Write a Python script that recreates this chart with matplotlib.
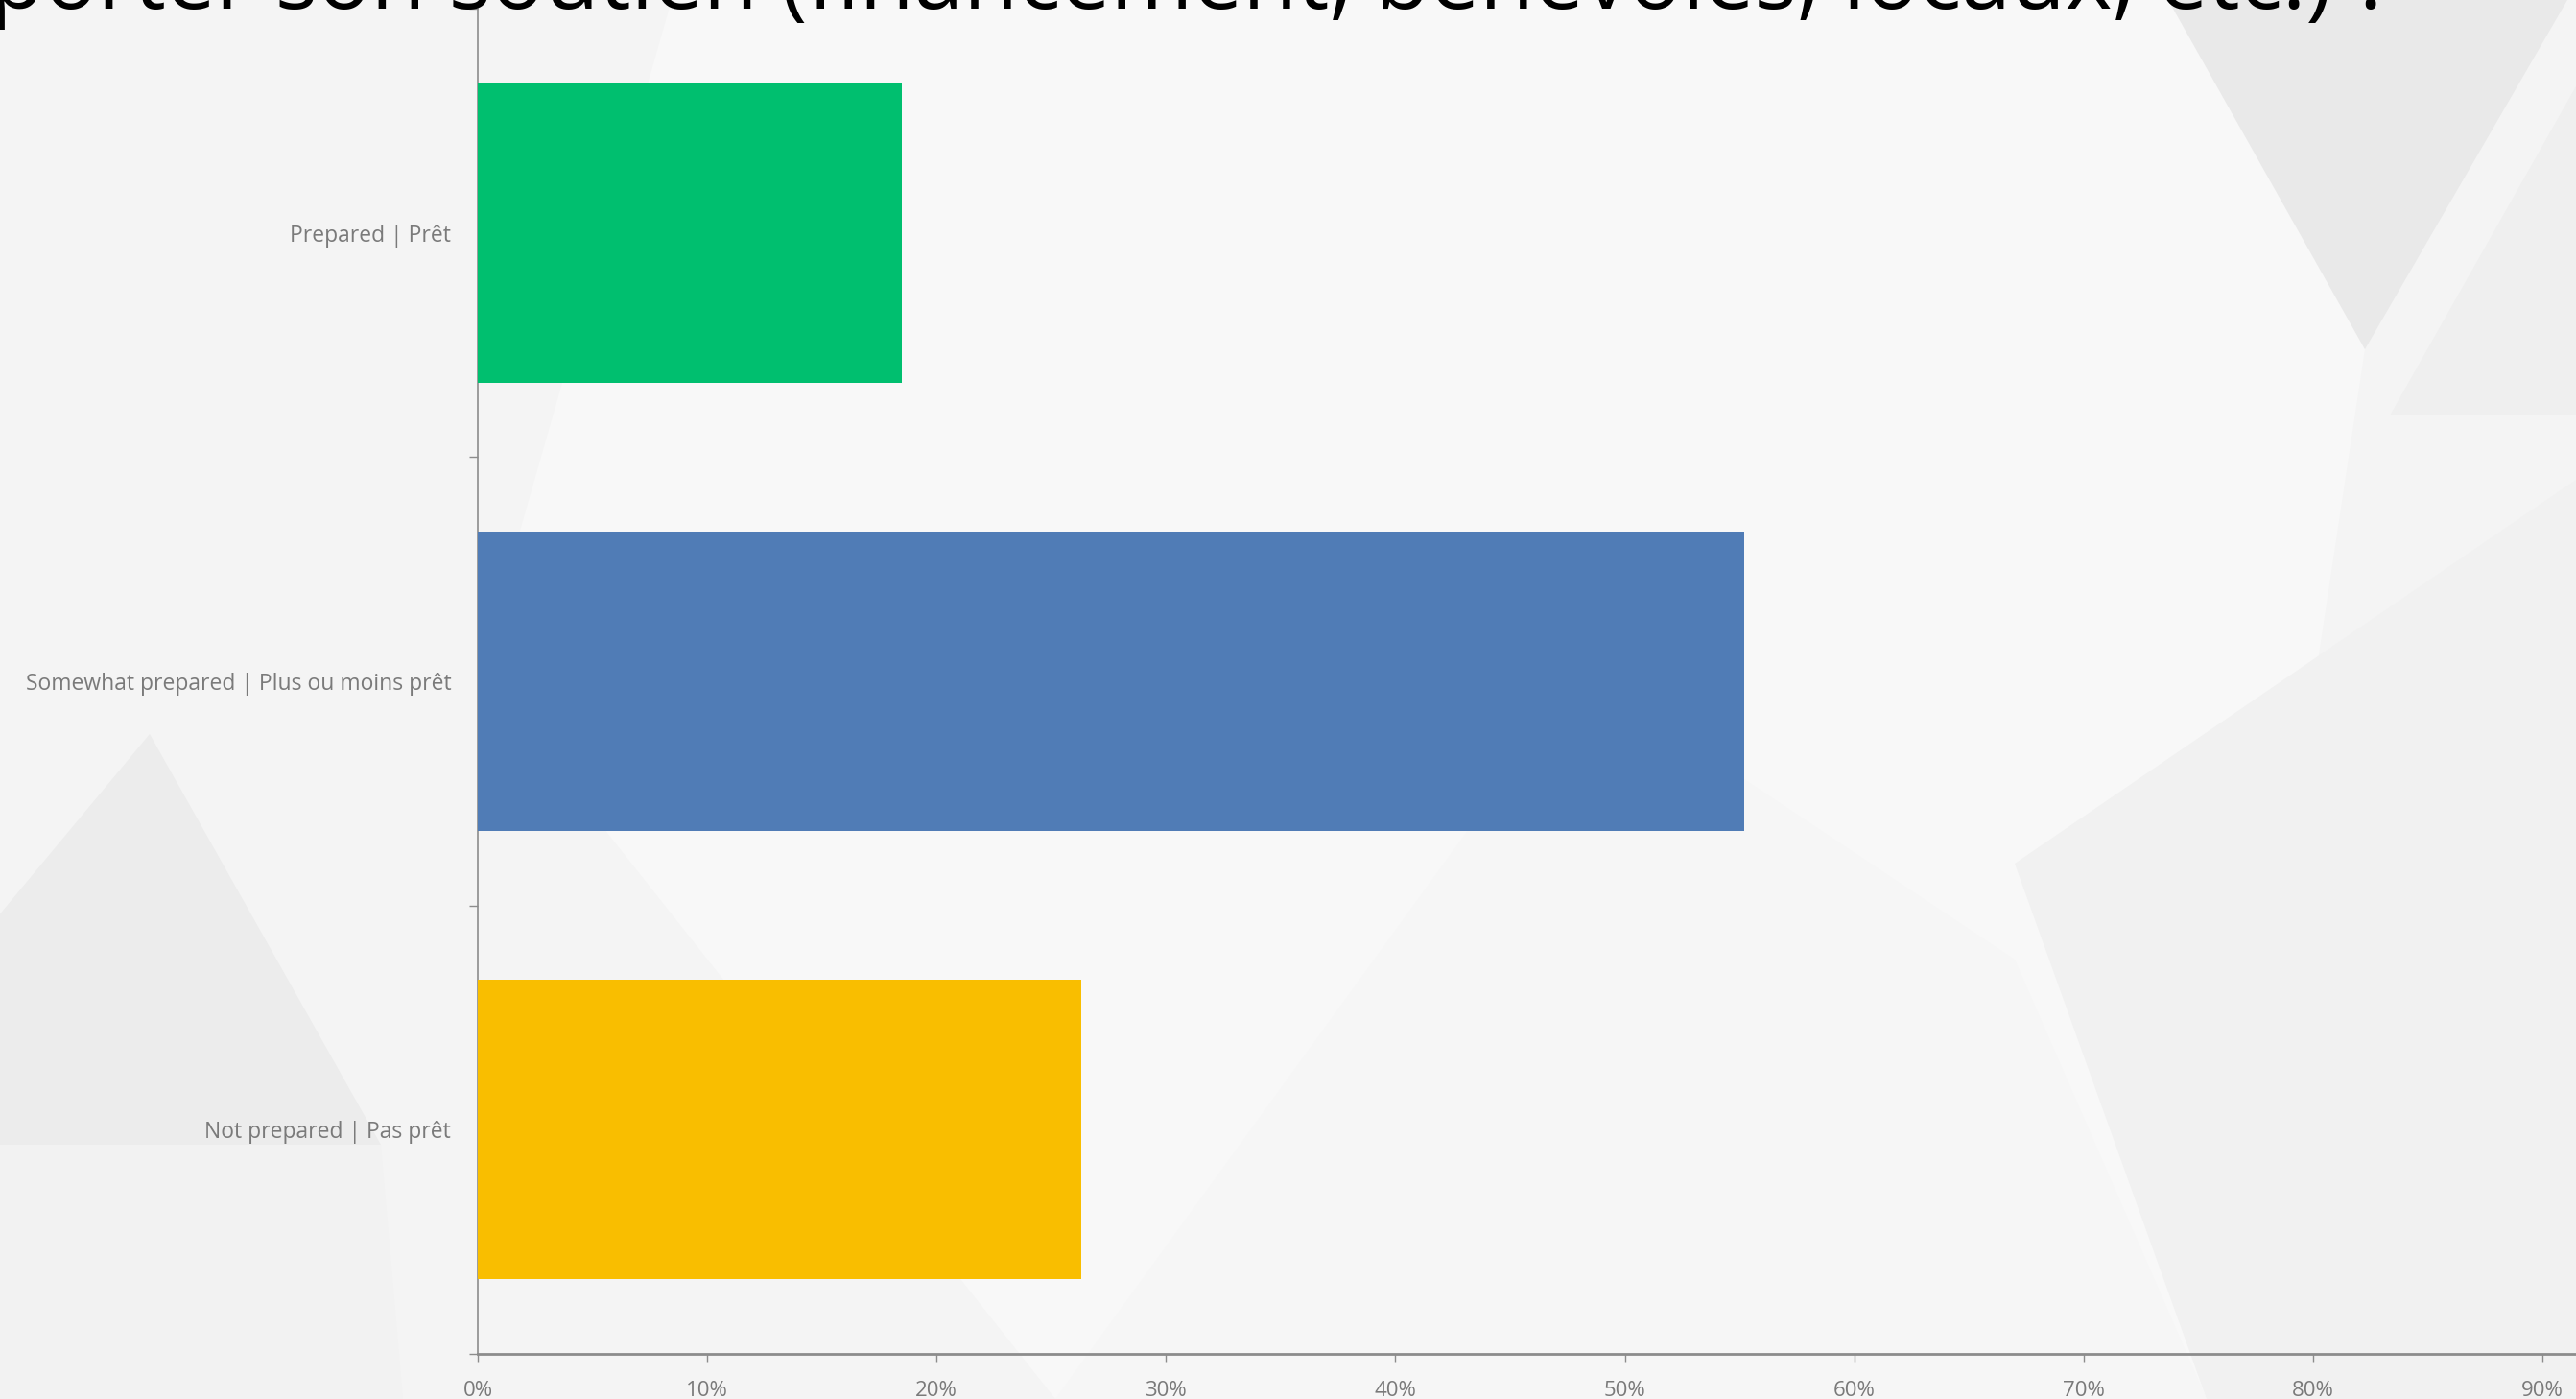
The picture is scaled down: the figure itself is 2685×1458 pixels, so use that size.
import numpy as np
import matplotlib
matplotlib.use("Agg")
import matplotlib.pyplot as plt
from matplotlib.patches import Polygon
from matplotlib.ticker import FuncFormatter, FixedLocator

# ---- data ----
categories = ["Prepared | Prêt",
              "Somewhat prepared | Plus ou moins prêt",
              "Not prepared | Pas prêt"]
values = [0.185, 0.552, 0.263]
bar_colors = ["#00BF6F", "#507CB6", "#F9BE00"]
x_ticks = [0.0, 0.1, 0.2, 0.3, 0.4, 0.5, 0.6, 0.7, 0.8, 0.9, 1.0]
title_text = "apporter son soutien (financement, bénévoles, locaux, etc.) ?"

W, H = 2685, 1458
DPI = 100
fig = plt.figure(figsize=(W / DPI, H / DPI), dpi=DPI)
fig.patch.set_facecolor("#f4f4f4")

# ---- decorative background ----
bg = fig.add_axes([0, 0, 1, 1], zorder=-10)
bg.set_xlim(0, 1)
bg.set_ylim(0, 1)
bg.axis("off")

def px(x, y):
    return (x / W, 1 - y / H)

shapes = [
    ([(700, 0), (2260, 0), (2465, 364), (2300, 1458), (1100, 1458), (500, 700)], "#f8f8f8"),
    ([(1100, 1458), (1650, 700), (2100, 1000), (2300, 1458)], "#f6f6f6"),
    ([(2260, 0), (2676, 0), (2465, 364)], "#e9e9e9"),
    ([(2491, 433), (2685, 433), (2685, 90)], "#efefef"),
    ([(2100, 900), (2685, 500), (2685, 1458), (2300, 1458)], "#f1f1f1"),
    ([(-200, 1193), (397, 1193), (156, 765)], "#ececec"),
    ([(0, 1193), (397, 1193), (420, 1458), (0, 1458)], "#f2f2f2"),
]
for pts, col in shapes:
    bg.add_patch(Polygon([px(*p) for p in pts], closed=True, facecolor=col,
                         edgecolor="none"))

# ---- chart ----
left, right, top, bottom = 498, 498 + 2391, 9, 1411
ax = fig.add_axes([left / W, (H - bottom) / H, (right - left) / W, (bottom - top) / H])
ax.patch.set_alpha(0)

ypos = np.arange(len(categories))
ax.barh(ypos, values, height=0.667, color=bar_colors, zorder=3)
ax.set_ylim(len(categories) - 0.5, -0.5)
ax.set_xlim(0, 1.0)

ax.spines["top"].set_visible(False)
ax.spines["right"].set_visible(False)
ax.spines["left"].set_color("#8c8c8c")
ax.spines["left"].set_linewidth(1.2)
ax.spines["bottom"].set_color("#8c8c8c")
ax.spines["bottom"].set_linewidth(2.0)

# y ticks at category boundaries, labels centered on bars
ax.yaxis.set_major_locator(FixedLocator(np.arange(-0.5, len(categories), 1.0)))
ax.yaxis.set_major_formatter(FuncFormatter(lambda v, p: ""))
ax.set_yticks(ypos, labels=categories, minor=True)
ax.tick_params(axis="y", which="major", direction="out", length=6.5, width=1.0, color="#8c8c8c")
ax.tick_params(axis="y", which="minor", length=0, pad=20, labelsize=16.5, labelcolor="#7a7a7a")

ax.set_xticks(x_ticks)
ax.xaxis.set_major_formatter(FuncFormatter(lambda v, p: f"{int(round(v * 100))}%"))
ax.tick_params(axis="x", direction="out", length=6, width=1.0, color="#8c8c8c",
               pad=14, labelsize=16, labelcolor="#7a7a7a")

for lab in ax.get_yticklabels(minor=True) + ax.get_xticklabels():
    lab.set_fontfamily("Open Sans")

# ---- title (mostly cut off at top) ----
fig.canvas.draw()
renderer = fig.canvas.get_renderer()
probe = fig.text(0, 0, "(financement, bénévoles, locaux, etc.) ?", fontsize=60,
                 fontfamily="Open Sans")
w = probe.get_window_extent(renderer).width
probe.remove()
target = 2495 - 815
fs = 60 * target / w
fig.text(2495 / W, 1 - 9 / H, title_text, fontsize=fs, fontfamily="Open Sans",
         color="#000000", ha="right", va="baseline")

fig.savefig("out.png", dpi=DPI, facecolor=fig.get_facecolor())
